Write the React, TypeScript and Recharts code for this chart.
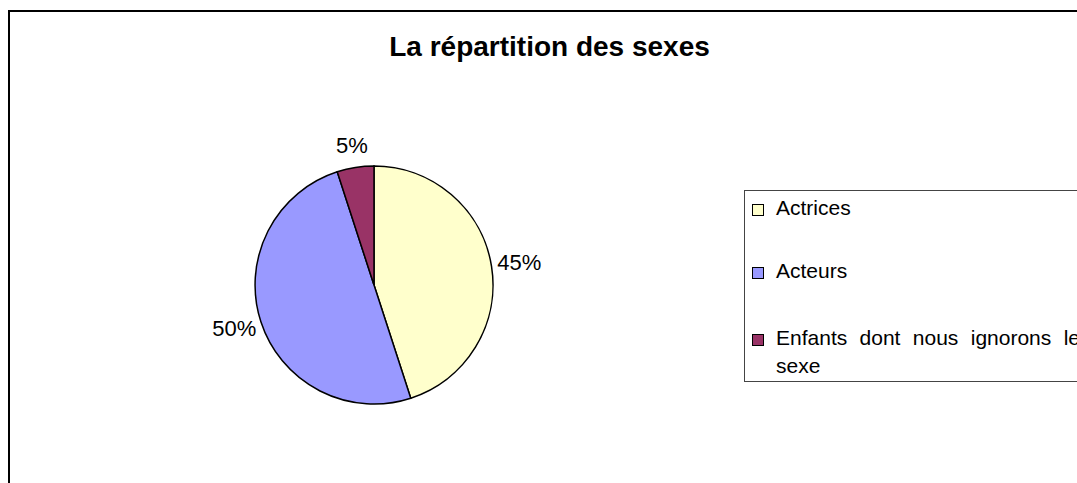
import { PieChart, Pie, Cell, Legend } from 'recharts'

const categories = ['Actrices', 'Acteurs', 'Enfants dont nous ignorons le sexe']
const values = [45, 50, 5]
const colors = ['#FFFFCC', '#9999FF', '#993366']

const data = categories.map((name, i) => ({ name, value: values[i] }))

const FONT = "'Liberation Sans', Arial, Helvetica, sans-serif"
const RAD = Math.PI / 180

// label placed just outside the slice edge, pushed out by half its own size
function renderLabel(props: any) {
    const { cx, cy, midAngle, outerRadius, percent } = props
    const cos = Math.cos(-midAngle * RAD)
    const sin = Math.sin(-midAngle * RAD)
    const text = `${Math.round(percent * 100)}%`
    const hw = (text.length === 2 ? 32 : 44) / 2
    const hh = 16
    const x = cx + (outerRadius + 6) * cos + hw * cos
    const y = cy + (outerRadius + 6) * sin + hh * sin
    return (
        <text x={x} y={y} textAnchor="middle" dominantBaseline="central" fill="#000" fontSize={22} fontFamily={FONT}>
            {text}
        </text>
    )
}

function LegendBox() {
    const rowTops = [3, 66, 133]
    return (
        <div style={{ position: 'relative', width: 344, height: 192, border: '1px solid #444', boxSizing: 'border-box', background: '#fff', fontFamily: FONT, fontSize: 21, color: '#000' }}>
            {data.map((d, i) => (
                <div key={d.name} style={{ position: 'absolute', left: 0, top: rowTops[i], width: '100%' }}>
                    <div style={{ position: 'absolute', left: 7, top: 10, width: 10, height: 10, background: colors[i], border: '1px solid #000' }} />
                    <div style={{ position: 'absolute', left: 31, top: 0, width: 304, lineHeight: '28px', textAlign: 'justify' }}>{d.name}</div>
                </div>
            ))}
        </div>
    )
}

export default function App() {
    return (
        <div style={{ position: 'fixed', left: 0, top: 0, width: 1077, height: 483, overflow: 'hidden', background: '#fff' }}>
            <div style={{ position: 'absolute', left: 8, top: 10, width: 1083, height: 520, border: '2px solid #000', boxSizing: 'border-box' }} />
            <div style={{ position: 'absolute', left: 0, top: 33, width: 1099, textAlign: 'center', fontFamily: FONT, fontWeight: 'bold', fontSize: 28, lineHeight: '28px', color: '#000' }}>
                La répartition des sexes
            </div>
            <div style={{ position: 'absolute', left: 8, top: 10 }}>
                <PieChart width={1083} height={520}>
                    <Pie
                        data={data}
                        dataKey="value"
                        nameKey="name"
                        cx={361}
                        cy={270}
                        outerRadius={119}
                        startAngle={90}
                        endAngle={-270}
                        stroke="#000"
                        strokeWidth={1.5}
                        label={renderLabel}
                        labelLine={false}
                        isAnimationActive={false}
                    >
                        {data.map((d, i) => <Cell key={d.name} fill={colors[i]} />)}
                    </Pie>
                    <Legend content={() => <LegendBox />} wrapperStyle={{ position: 'absolute', left: 736, top: 180, width: 344, height: 192 }} />
                </PieChart>
            </div>
        </div>
    )
}
